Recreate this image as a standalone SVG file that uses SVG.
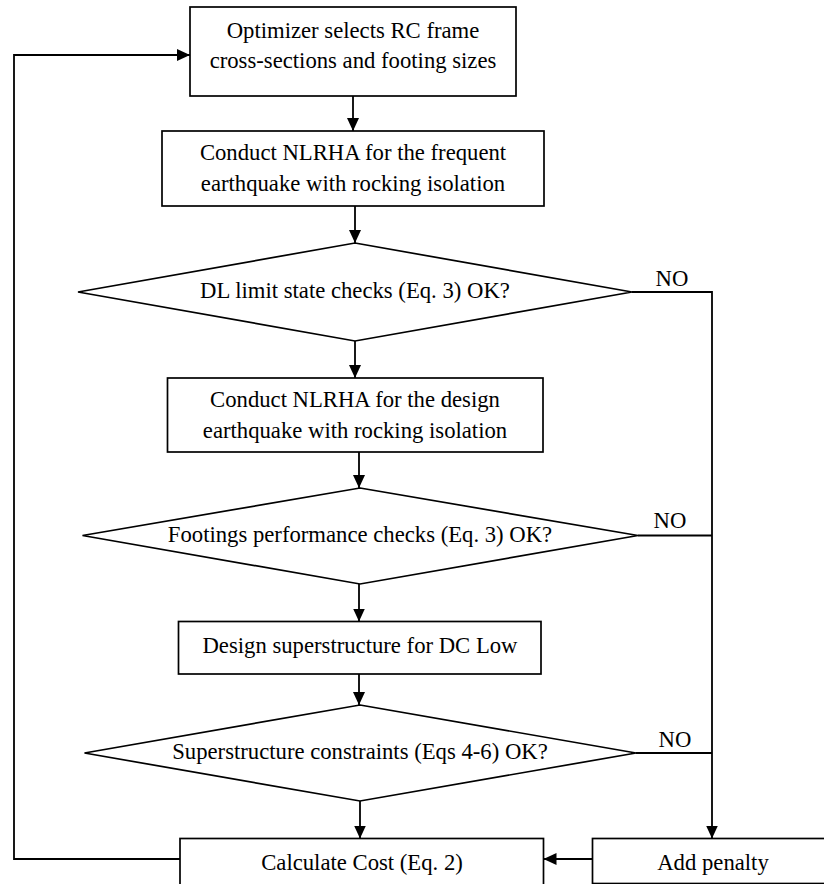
<svg xmlns="http://www.w3.org/2000/svg" width="824" height="884" viewBox="0 0 824 884">
  <defs>
    <marker id="arrow" markerUnits="userSpaceOnUse" markerWidth="14" markerHeight="12" refX="13" refY="6" orient="auto">
      <path d="M0,0 L13,6 L0,12 z" fill="#000"/>
    </marker>
    <style>
      .shape { fill: #fff; stroke: #000; stroke-width: 1.7; }
      .conn { fill: none; stroke: #000; stroke-width: 1.8; }
      .arr { marker-end: url(#arrow); }
      text { font-family: "Liberation Serif", "Times New Roman", serif; font-size: 22.7px; fill: #000; text-anchor: middle; }
    </style>
  </defs>
  <rect width="824" height="884" fill="#fff"/>

  <g id="connectors">
    <line class="conn arr" x1="353" y1="96" x2="353" y2="131"/>
    <line class="conn arr" x1="355" y1="206" x2="355" y2="243"/>
    <line class="conn arr" x1="355" y1="341" x2="355" y2="378"/>
    <line class="conn arr" x1="359" y1="452" x2="359" y2="488"/>
    <line class="conn arr" x1="359" y1="584" x2="359" y2="621.5"/>
    <line class="conn arr" x1="359" y1="674" x2="359" y2="705"/>
    <line class="conn arr" x1="360" y1="801" x2="360" y2="838.5"/>
    <path class="conn arr" d="M632,292 H712 V838.5"/>
    <path class="conn" d="M638,535.5 H712"/>
    <path class="conn" d="M636,753 H712"/>
    <path class="conn arr" d="M592.5,859 H543.5"/>
    <path class="conn arr" d="M180,859 H14 V55 H190"/>
  </g>

  <g id="n1">
    <rect class="shape" x="190" y="7" width="326" height="89"/>
    <text x="353" y="38">Optimizer selects RC frame</text>
    <text x="353" y="68">cross-sections and footing sizes</text>
  </g>
  <g id="n2">
    <rect class="shape" x="162" y="131" width="382" height="75"/>
    <text x="353" y="160">Conduct NLRHA for the frequent</text>
    <text x="353" y="191">earthquake with rocking isolation</text>
  </g>
  <g id="d1">
    <polygon class="shape" points="355,243 632,292 355,341 78,292"/>
    <text x="355" y="298">DL limit state checks (Eq. 3) OK?</text>
  </g>
  <g id="n3">
    <rect class="shape" x="167.5" y="378" width="375.5" height="74"/>
    <text x="355" y="407">Conduct NLRHA for the design</text>
    <text x="355" y="438">earthquake with rocking isolation</text>
  </g>
  <g id="d2">
    <polygon class="shape" points="360,488 638,535.5 360,584 82.5,535.5"/>
    <text x="360" y="542">Footings performance checks (Eq. 3) OK?</text>
  </g>
  <g id="n4">
    <rect class="shape" x="178.5" y="621.5" width="362.5" height="52.5"/>
    <text x="360" y="653">Design superstructure for DC Low</text>
  </g>
  <g id="d3">
    <polygon class="shape" points="360,705 636,753 360,801 84.5,753"/>
    <text x="360" y="759">Superstructure constraints (Eqs 4-6) OK?</text>
  </g>
  <g id="n5">
    <rect class="shape" x="180" y="838.5" width="363.5" height="50"/>
    <text x="362" y="870">Calculate Cost (Eq. 2)</text>
  </g>
  <g id="n6">
    <rect class="shape" x="592.5" y="838.5" width="245" height="45"/>
    <text x="713" y="870">Add penalty</text>
  </g>

  <g id="labels">
    <text x="672" y="286">NO</text>
    <text x="670" y="528">NO</text>
    <text x="675" y="747">NO</text>
  </g>
</svg>
